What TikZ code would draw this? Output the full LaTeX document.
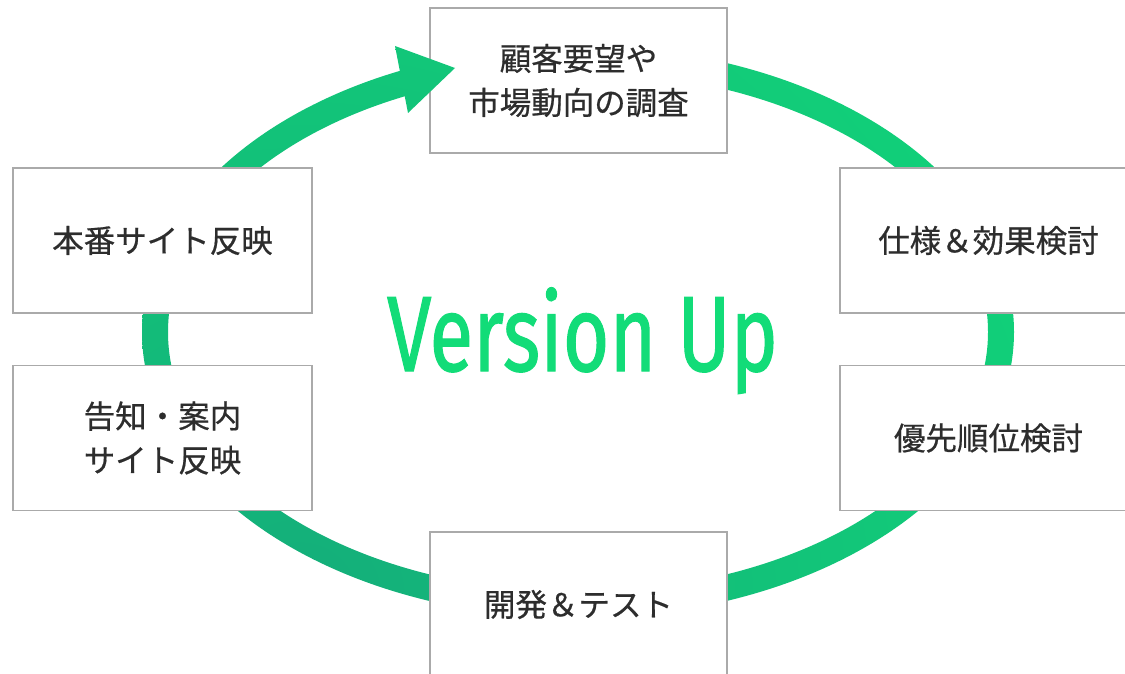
\documentclass[tikz,border=0pt]{standalone}
\usepackage{fontspec}
\usepackage{graphicx}
\newfontfamily\jp[FakeBold=0.6]{Noto Sans CJK JP}
\newfontfamily\vfont[FakeBold=1.2]{Fira Sans}
\definecolor{ringdark}{RGB}{20,174,122}
\definecolor{ringbright}{RGB}{16,224,120}
\definecolor{boxline}{RGB}{170,170,170}
\definecolor{txt}{RGB}{45,45,45}
\definecolor{vgreen}{RGB}{18,220,120}
\pgfdeclareradialshading{ringshade}{\pgfpoint{0bp}{0bp}}{color(0bp)=(ringdark); color(29bp)=(ringbright); color(50bp)=(ringbright)}
\begin{document}
\begin{tikzpicture}[x=1pt,y=-1pt,
  stepbox/.style={draw=boxline, line width=1.3pt, fill=white, minimum width=297pt,
    minimum height=145pt, inner sep=0pt, align=center,
    font=\jp\fontsize{31.5}{44}\selectfont, text=txt}]
\useasboundingbox (0,0) rectangle (1125,674);
\coordinate (c) at (578,332);
\coordinate (g) at (300,600);
% ring
\begin{scope}[even odd rule]
\clip (c) ellipse (436pt and 286pt) (c) ellipse (410pt and 260pt);
\shade[shading=ringshade] (g) circle (1000pt);
\end{scope}
% boxes
\node[stepbox] (survey)  at (578.5,80.5) {顧客要望や\\市場動向の調査};
\node[stepbox] (spec)    at (988.5,240.5) {仕様＆効果検討};
\node[stepbox] (prio)    at (988.5,438) {優先順位検討};
\node[stepbox] (dev)     at (578.5,604.5) {開発＆テスト};
\node[stepbox, minimum width=299pt] (notice)  at (162.5,438) {告知・案内\\サイト反映};
\node[stepbox, minimum width=299pt] (release) at (162.5,240.5) {本番サイト反映};
% arrowhead
\coordinate (tip) at (455,68);
\coordinate (b1) at (395,46);
\coordinate (b2) at (408,113);
\begin{scope}
\clip (tip) -- (b1) -- (b2) -- cycle;
\shade[shading=ringshade] (g) circle (1000pt);
\end{scope}
% title
\node[text=vgreen, anchor=base, inner sep=0pt] (title) at (582.5,371)
  {\resizebox{391pt}{\height}{\vfont\fontsize{107}{107}\selectfont Version Up}};
\end{tikzpicture}
\end{document}
